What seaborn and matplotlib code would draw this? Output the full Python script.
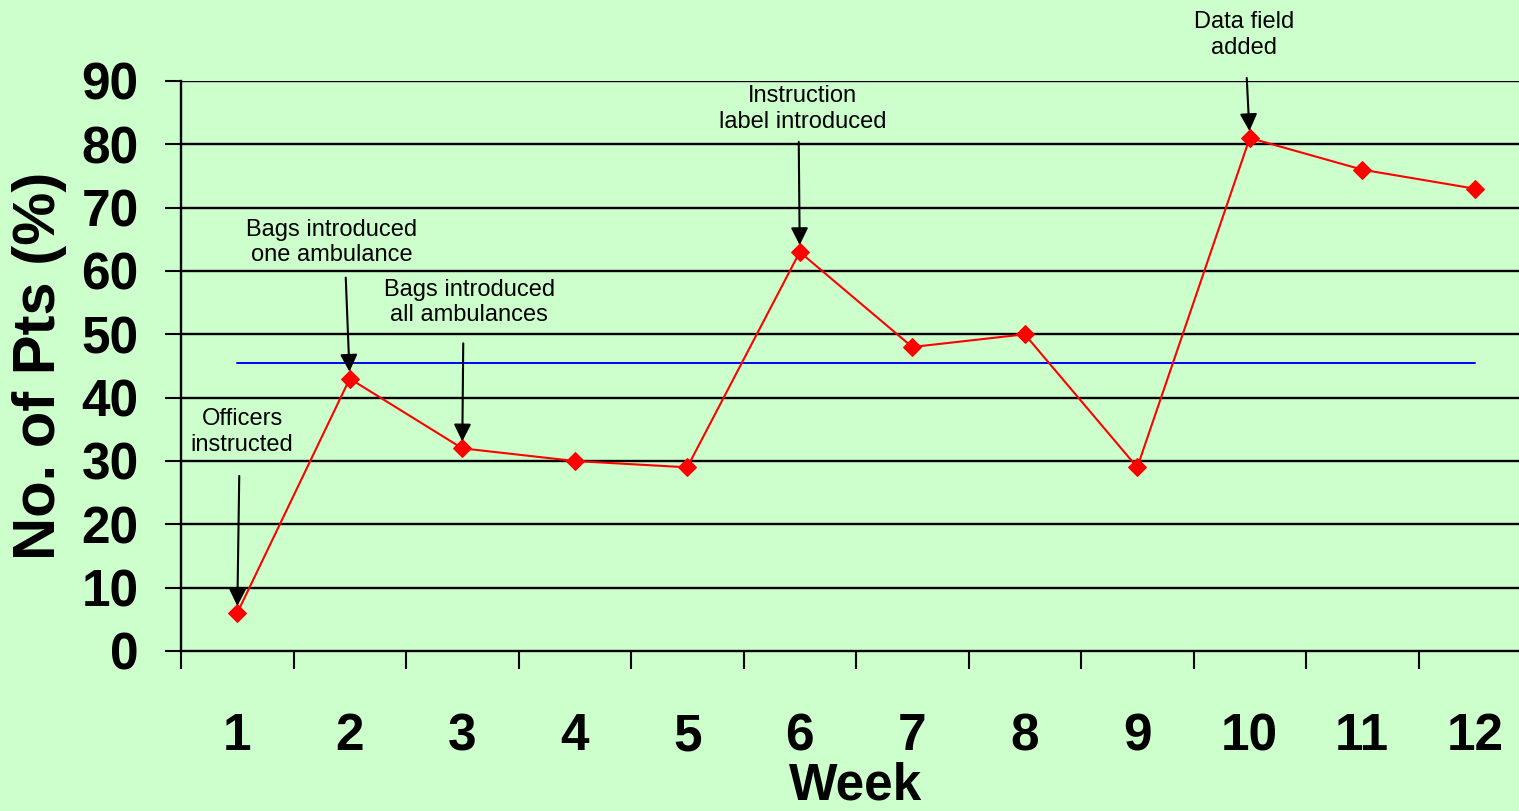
import matplotlib
matplotlib.use("Agg")
import matplotlib.pyplot as plt
import seaborn as sns
import numpy as np

# Weekly percentage of patients
weeks = ["1", "2", "3", "4", "5", "6", "7", "8", "9", "10", "11", "12"]
pct_pts = [6, 43, 32, 30, 29, 63, 48, 50, 29, 81, 76, 73]
centre_line = 45.5
y_ticks = [0, 10, 20, 30, 40, 50, 60, 70, 80, 90]

# Interventions: (week index, label, text offset px, arrow start offset px)
events = [
    (0, "Officers\ninstructed", (5, 181), (2, 137)),
    (1, "Bags introduced\none ambulance", (-18, 136), (-4, 101)),
    (2, "Bags introduced\nall ambulances", (7, 146), (1, 105)),
    (5, "Instruction\nlabel introduced", (3, 143), (-1, 110)),
    (9, "Data field\nadded", (-6, 103), (-3, 60)),
]

bg = "#CCFFCC"
sns.set_style("white")
plt.rcParams["font.family"] = ["Liberation Sans", "DejaVu Sans"]
plt.rcParams.update({
    "text.color": "black",
    "axes.labelcolor": "black",
    "xtick.color": "black",
    "ytick.color": "black",
})

fig = plt.figure(figsize=(15.19, 8.11), dpi=100)
fig.patch.set_facecolor(bg)
ax = fig.add_axes([181 / 1519, 1 - 651 / 811, 1350 / 1519, 570 / 811])
ax.set_facecolor(bg)

pos = np.arange(len(weeks))

# horizontal grid
for yv in y_ticks[1:]:
    ax.axhline(yv, color="black", lw=1.7, zorder=1)

# centre line
ax.plot([pos[0], pos[-1]], [centre_line, centre_line], color="#0000FF", lw=1.4, zorder=2)

sns.lineplot(x=pos, y=pct_pts, ax=ax, color="#FF0000", lw=1.5, marker="D",
             markersize=9, markeredgecolor="#FF0000", zorder=3)

for idx, label, toff, aoff in events:
    yv = pct_pts[idx]
    ax.annotate("", xy=(pos[idx], yv), xytext=aoff, textcoords="offset pixels",
                arrowprops=dict(arrowstyle="-|>", color="black", lw=1.5,
                                mutation_scale=26, shrinkA=0, shrinkB=5),
                zorder=4)
    ax.annotate(label, xy=(pos[idx], yv), xytext=toff, textcoords="offset pixels",
                ha="center", va="center", fontsize=17, color="black",
                linespacing=1.2)

ax.set_xlim(-0.5, len(weeks) - 0.5)
ax.set_ylim(0, 90)

ax.set_yticks(y_ticks)
ax.set_yticklabels([str(v) for v in y_ticks], fontsize=37, fontweight="bold")
ax.tick_params(axis="y", direction="out", length=11.5, width=1.5, pad=19,
               left=True, color="black", labelcolor="black")

ax.set_xticks(pos)
ax.set_xticklabels(weeks, fontsize=37, fontweight="bold")
ax.set_xticks(np.arange(-0.5, len(weeks) + 0.5, 1), minor=True)
ax.tick_params(axis="x", which="major", length=0, pad=44, labelcolor="black")
ax.tick_params(axis="x", which="minor", direction="out", length=13, width=1.5,
               bottom=True, color="black")

ax.set_xlabel("Week", fontsize=37, fontweight="bold", labelpad=0, color="black")
ax.set_ylabel("No. of Pts (%)", fontsize=43, fontweight="bold", labelpad=10,
              color="black")

for side in ["top", "right"]:
    ax.spines[side].set_visible(False)
for side in ["left", "bottom"]:
    ax.spines[side].set_color("black")
    ax.spines[side].set_linewidth(1.7)

fig.savefig("out.png", dpi=100, facecolor=bg)
